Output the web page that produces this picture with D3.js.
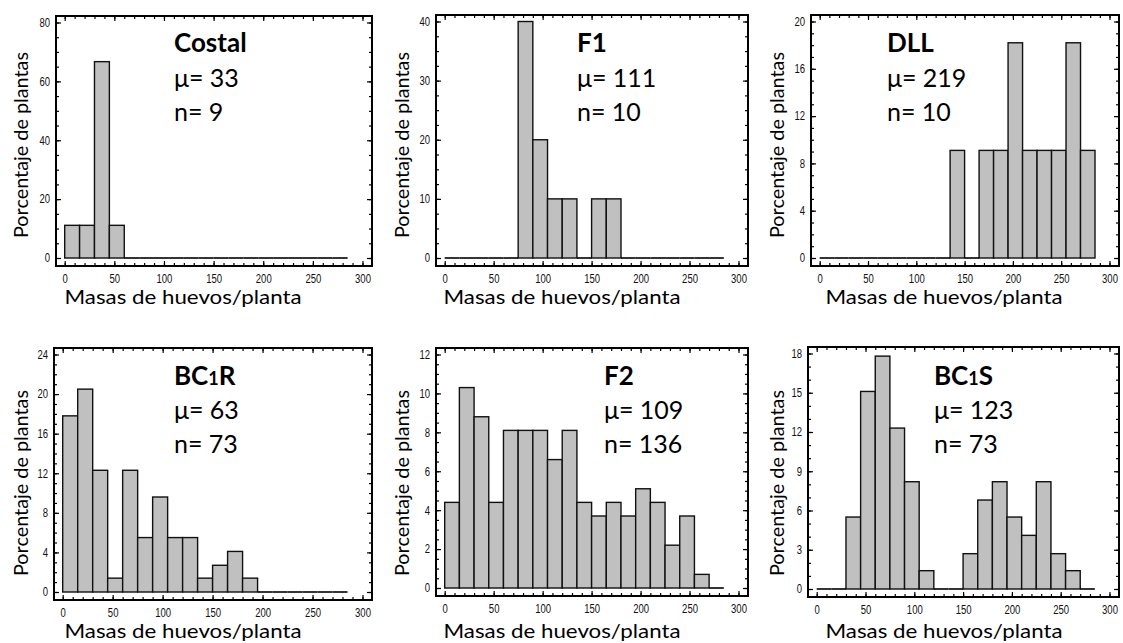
<!DOCTYPE html>
<html>
<head>
<meta charset="utf-8">
<script src="https://cdn.jsdelivr.net/npm/d3@7"></script>
<style>
  body { margin: 0; background: #fff; }
  svg { display: block; }
  .tick text { font-family: "Liberation Sans Narrow", "Arial Narrow", "Liberation Sans", sans-serif; font-size: 12px; fill: #111; }
  .tick line { stroke: #000; stroke-width: 1.2; }
  .lbl { font-family: Lato, "Open Sans", sans-serif; fill: #000; }
</style>
</head>
<body>
<svg id="chart" width="1123" height="643"></svg>
<script>
// ---- data: % of plants per bin of 15 egg masses ----
const BIN_EDGES = [0,15,30,45,60,75,90,105,120,135,150,165,180,195,210,225,240,255,270,285];
const X_TICKS = [0,50,100,150,200,250,300];

const costal = [11.1,11.1,66.7,11.1,0,0,0,0,0,0,0,0,0,0,0,0,0,0,0];
const f1     = [0,0,0,0,0,40,20,10,10,0,10,10,0,0,0,0,0,0,0];
const dll    = [0,0,0,0,0,0,0,0,0,9.1,0,9.1,9.1,18.2,9.1,9.1,9.1,18.2,9.1];
const bc1r   = [17.8,20.5,12.3,1.4,12.3,5.5,9.6,5.5,5.5,1.4,2.7,4.1,1.4,0,0,0,0,0,0];
const f2     = [4.4,10.3,8.8,4.4,8.1,8.1,8.1,6.6,8.1,4.4,3.7,4.4,3.7,5.1,4.4,2.2,3.7,0.7,0];
const bc1s   = [0,0,5.5,15.1,17.8,12.3,8.2,1.4,0,0,2.7,6.8,8.2,5.5,4.1,8.2,2.7,1.4,0];

const series  = [costal, f1, dll, bc1r, f2, bc1s];
const names   = ['Costal','F1','DLL','BC1R','F2','BC1S'];
const means   = [33, 111, 219, 63, 109, 123];
const counts  = [9, 10, 10, 73, 136, 73];
const yTicks  = [[0,20,40,60,80],[0,10,20,30,40],[0,4,8,12,16,20],[0,4,8,12,16,20,24],[0,2,4,6,8,10,12],[0,3,6,9,12,15,18]];
const yMinorStep = [5, 2.5, 1, 1, 0.5, 1];

// ---- layout ----
const FRAMES = [
  {x0:56,  y0:16,  x1:372,  y1:266},
  {x0:436, y0:15,  x1:748,  y1:266},
  {x0:811, y0:15,  x1:1119, y1:266},
  {x0:54,  y0:348, x1:372,  y1:600},
  {x0:436, y0:348, x1:748,  y1:596},
  {x0:808, y0:347, x1:1119, y1:597},
];
const TEXT_X   = [174, 577, 887, 174, 604, 934];
const ROW_BASE = [[52,87,121],[385,419,453]];
const YT_X     = [28, 409, 784];
const XT_CX    = [183, 562, 944];

const svg = d3.select('#chart');

// narrow digits like the original condensed axis font
function narrow(sel) {
  sel.each(function () {
    const s = this.textContent;
    if (s) d3.select(this).attr('textLength', s.length * 5.3).attr('lengthAdjust', 'spacingAndGlyphs');
  });
}

series.forEach((vals, i) => {
  const f = FRAMES[i];
  const row = i < 3 ? 0 : 1, col = i % 3;
  const ymax = yTicks[i][yTicks[i].length - 1];

  const x = d3.scaleLinear().domain([0, 300]).range([f.x0 + 8.7, f.x1 - 9.5]);
  const y = d3.scaleLinear().domain([0, ymax]).range([f.y1 - 8, f.y0 + 6.5]);

  const g = svg.append('g');

  const bins = vals.map((v, k) => ({x0: BIN_EDGES[k], x1: BIN_EDGES[k + 1], v}));

  // bars
  g.selectAll('rect.bar').data(bins.filter(d => d.v > 0)).join('rect')
    .attr('class', 'bar')
    .attr('x', d => x(d.x0))
    .attr('width', d => x(d.x1) - x(d.x0))
    .attr('y', d => y(d.v))
    .attr('height', d => y(0) - y(d.v))
    .attr('fill', '#c0c0c0')
    .attr('stroke', '#111')
    .attr('stroke-width', 1.4);

  // empty bins drawn as a flat line
  g.selectAll('line.zero').data(bins.filter(d => d.v === 0)).join('line')
    .attr('class', 'zero')
    .attr('x1', d => x(d.x0)).attr('x2', d => x(d.x1))
    .attr('y1', y(0)).attr('y2', y(0))
    .attr('stroke', '#000').attr('stroke-width', 1.6);

  // ticks on all four sides, pointing inward
  const yMinor = d3.range(0, ymax + 1e-9, yMinorStep[i]);
  const xMinor = d3.range(0, 301, 10);
  const axes = [
    [d3.axisLeft(y).tickValues(yMinor).tickSize(-3).tickFormat(''), `translate(${f.x0},0)`],
    [d3.axisLeft(y).tickValues(yTicks[i]).tickSize(-5).tickPadding(6), `translate(${f.x0},0)`],
    [d3.axisRight(y).tickValues(yMinor).tickSize(-3).tickFormat(''), `translate(${f.x1},0)`],
    [d3.axisRight(y).tickValues(yTicks[i]).tickSize(-5).tickFormat(''), `translate(${f.x1},0)`],
    [d3.axisBottom(x).tickValues(xMinor).tickSize(-3).tickFormat(''), `translate(0,${f.y1})`],
    [d3.axisBottom(x).tickValues(X_TICKS).tickSize(-5).tickPadding(8), `translate(0,${f.y1})`],
    [d3.axisTop(x).tickValues(xMinor).tickSize(-3).tickFormat(''), `translate(0,${f.y0})`],
    [d3.axisTop(x).tickValues(X_TICKS).tickSize(-5).tickFormat(''), `translate(0,${f.y0})`],
  ];
  axes.forEach(([ax, tr]) => {
    const a = g.append('g').attr('transform', tr).call(ax);
    a.select('.domain').remove();
    a.selectAll('text').attr('font-family', null).attr('font-size', null).call(narrow);
  });

  // frame
  g.append('rect')
    .attr('x', f.x0).attr('y', f.y0)
    .attr('width', f.x1 - f.x0).attr('height', f.y1 - f.y0)
    .attr('fill', 'none').attr('stroke', '#000').attr('stroke-width', 2);

  // panel text
  const base = ROW_BASE[row];
  const t = g.append('text').attr('class', 'lbl')
    .attr('x', TEXT_X[i]).attr('y', base[0])
    .attr('font-size', 26).attr('font-weight', 700);
  const m = names[i].match(/^(BC)(1)(.*)$/);
  if (m) {
    t.append('tspan').text(m[1]);
    t.append('tspan').attr('font-size', 18).text(m[2]);
    t.append('tspan').text(m[3]);
  } else {
    t.text(names[i]);
  }
  g.append('text').attr('class', 'lbl').attr('x', TEXT_X[i]).attr('y', base[1])
    .attr('font-size', 25).text('\u03BC= ' + means[i]);
  g.append('text').attr('class', 'lbl').attr('x', TEXT_X[i]).attr('y', base[2])
    .attr('font-size', 25).text('n= ' + counts[i]);

  // axis titles
  const ymid = row === 0 ? 145 : 483;
  g.append('text').attr('class', 'lbl')
    .attr('transform', `translate(${YT_X[col]},${ymid}) rotate(-90)`)
    .attr('text-anchor', 'middle')
    .attr('font-size', 19)
    .attr('textLength', 186).attr('lengthAdjust', 'spacingAndGlyphs')
    .text('Porcentaje de plantas');

  g.append('text').attr('class', 'lbl')
    .attr('x', XT_CX[col]).attr('y', row === 0 ? 304 : 638)
    .attr('text-anchor', 'middle')
    .attr('font-size', 20)
    .attr('textLength', 237).attr('lengthAdjust', 'spacingAndGlyphs')
    .text('Masas de huevos/planta');
});
</script>
</body>
</html>
